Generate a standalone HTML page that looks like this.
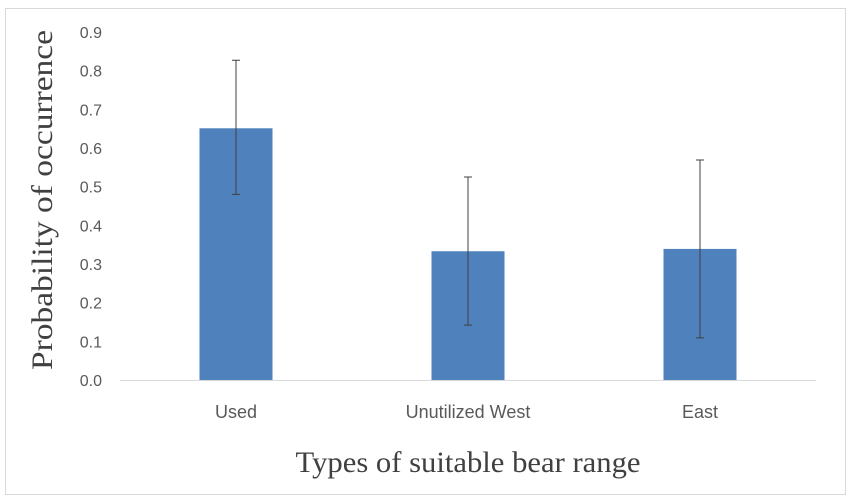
<!DOCTYPE html>
<html><head><meta charset="utf-8"><style>
body{margin:0;background:#fff;width:854px;height:502px;overflow:hidden}
svg{display:block}
</style></head><body>
<svg id="chart" width="854" height="502">
<rect x="5.5" y="8.5" width="840" height="486" fill="#fff" stroke="#d9d9d9"/>
<g id="grid"></g>
<g id="bars"></g>
<text x="0" y="0" transform="translate(52,200) rotate(-90)" text-anchor="middle" font-family="Liberation Serif, serif" font-size="30" fill="#404040" textLength="340" lengthAdjust="spacingAndGlyphs">Probability of occurrence</text>
<text x="468" y="472" text-anchor="middle" font-family="Liberation Serif, serif" font-size="30" fill="#404040" textLength="345" lengthAdjust="spacingAndGlyphs">Types of suitable bear range</text>
</svg>
<script>
const categories=["Used","Unutilized West","East"];
const values=[0.651,0.333,0.339];
const errLow=[0.48,0.142,0.109];
const errHigh=[0.827,0.525,0.569];
const yTicks=[0,0.1,0.2,0.3,0.4,0.5,0.6,0.7,0.8,0.9];
const yTickLabels=["0.0","0.1","0.2","0.3","0.4","0.5","0.6","0.7","0.8","0.9"];
const NS="http://www.w3.org/2000/svg";
const x0=120,x1=816,y0=380,yTop=32,yMax=0.9;
const y=v=>y0-(v/yMax)*(y0-yTop);
const band=(x1-x0)/categories.length;
const xc=i=>x0+band*(i+0.5);
const bw=73;
function mk(t,a,p){const e=document.createElementNS(NS,t);for(const k in a)e.setAttribute(k,a[k]);p.appendChild(e);return e;}
const g=document.getElementById('grid'),b=document.getElementById('bars');
yTicks.forEach((v,i)=>{
 const t=mk('text',{x:102,y:y(v)+6,'text-anchor':'end','font-family':'Liberation Sans, sans-serif','font-size':'16',fill:'#595959'},g);
 t.textContent=yTickLabels[i];
 
 
});
const ax=mk('line',{x1:x0,x2:x1,y1:y0+0.5,y2:y0+0.5,stroke:'#d9d9d9','stroke-width':1},g);


categories.forEach((c,i)=>{
 const r=mk('rect',{x:xc(i)-bw/2,y:y(values[i]),width:bw,height:y0-y(values[i]),fill:'#4f81bd'},b);
 
 
 const e=mk('path',{d:`M${xc(i)},${y(errHigh[i])}V${y(errLow[i])}M${xc(i)-4},${y(errHigh[i])}H${xc(i)+4}M${xc(i)-4},${y(errLow[i])}H${xc(i)+4}`,stroke:'#404040','stroke-width':1,fill:'none'},b);
 
 
 const t=mk('text',{x:xc(i),y:418,'text-anchor':'middle','font-family':'Liberation Sans, sans-serif','font-size':'18',fill:'#595959'},b);
 t.textContent=c;
 
 
});
</script>
</body></html>
